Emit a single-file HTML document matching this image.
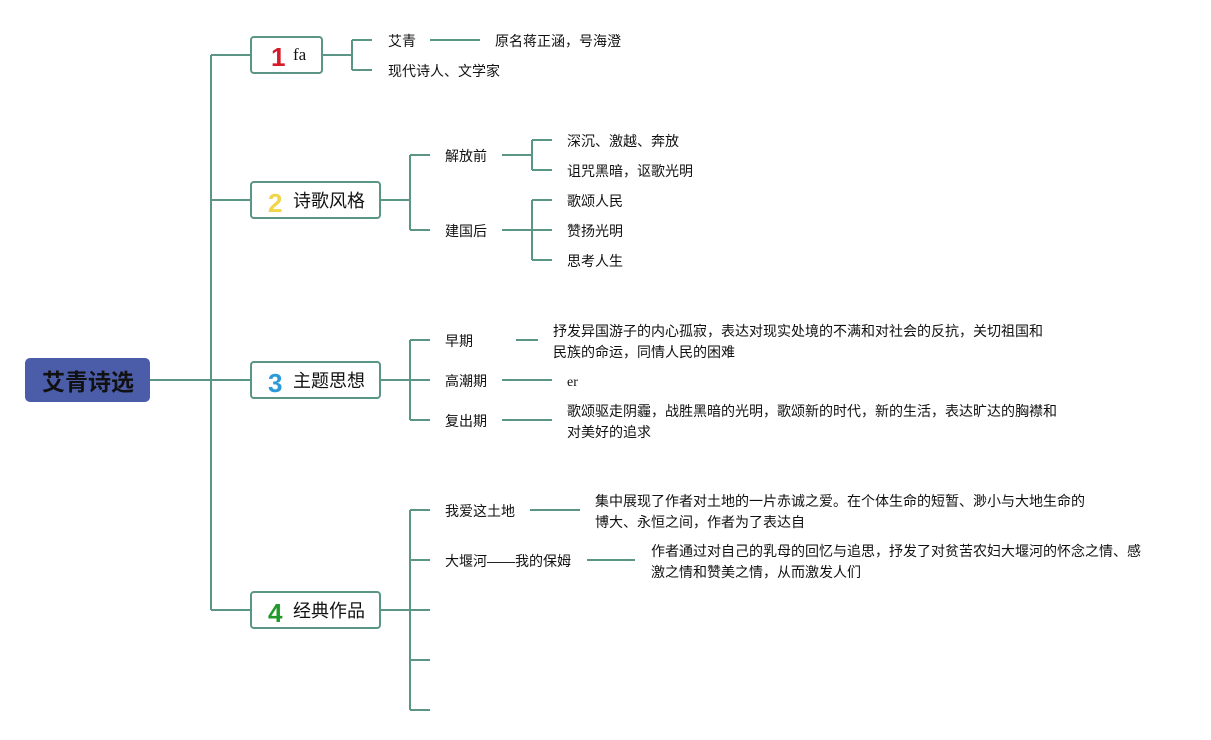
<!DOCTYPE html>
<html><head><meta charset="utf-8"><style>
body{margin:0;background:#fff;}
svg text{font-family:"Liberation Sans","Noto Sans CJK SC",sans-serif;fill:#111;}
</style></head><body>
<svg width="1211" height="735" xmlns="http://www.w3.org/2000/svg">
<g stroke="#5b9585" stroke-width="2" fill="none">
<path d="M150 380H251M211 55V610M211 55H251M211 200H251M211 610H251"/>
<path d="M322 55H352M352 40V70M352 40H372M352 70H372M430 40H480"/>
<path d="M380 200H410M410 155V230M410 155H430M410 230H430"/>
<path d="M502 155H532M532 140V170M532 140H552M532 170H552"/>
<path d="M502 230H532M532 200V260M532 200H552M532 230H552M532 260H552"/>
<path d="M380 380H410M410 340V420M410 340H430M410 380H430M410 420H430"/>
<path d="M516 340H538M502 380H552M502 420H552"/>
<path d="M380 610H410M410 510V710M410 510H430M410 560H430M410 610H430M410 660H430M410 710H430"/>
<path d="M530 510H580M587 560H635"/>
</g>
<rect x="25" y="358" width="125" height="44" rx="5" fill="#4b5ca8"/>
<text x="88" y="390" font-size="23" font-weight="bold" text-anchor="middle">艾青诗选</text>
<g fill="#fff" stroke="#5b9585" stroke-width="2">
<rect x="251" y="37" width="71" height="36" rx="3"/>
<rect x="251" y="182" width="129" height="36" rx="3"/>
<rect x="251" y="362" width="129" height="36" rx="3"/>
<rect x="251" y="592" width="129" height="36" rx="3"/>
</g>
<text x="271" y="66" font-size="26" font-weight="bold" style="fill:#d8192a">1</text>
<text x="293" y="60" font-size="17" style="font-family:'Liberation Serif',serif">fa</text>
<text x="268" y="212" font-size="26" font-weight="bold" style="fill:#f0d44a">2</text>
<text x="268" y="392" font-size="26" font-weight="bold" style="fill:#2a9ad8">3</text>
<text x="268" y="622" font-size="26" font-weight="bold" style="fill:#1f9a2a">4</text>
<g font-size="18"><text x="293" y="207">诗歌风格</text><text x="293" y="387">主题思想</text><text x="293" y="617">经典作品</text></g>
<g font-size="14">
<text x="388" y="46">艾青</text><text x="495" y="46">原名蒋正涵，号海澄</text>
<text x="388" y="76">现代诗人、文学家</text>
<text x="445" y="161">解放前</text><text x="445" y="236">建国后</text>
<text x="567" y="146">深沉、激越、奔放</text><text x="567" y="176">诅咒黑暗，讴歌光明</text>
<text x="567" y="206">歌颂人民</text><text x="567" y="236">赞扬光明</text><text x="567" y="266">思考人生</text>
<text x="445" y="346">早期</text><text x="445" y="386">高潮期</text><text x="445" y="426">复出期</text>
<text x="553" y="336">抒发异国游子的内心孤寂，表达对现实处境的不满和对社会的反抗，关切祖国和</text>
<text x="553" y="357">民族的命运，同情人民的困难</text>
<text x="567" y="386" style="font-family:'Liberation Serif',serif">er</text>
<text x="567" y="416">歌颂驱走阴霾，战胜黑暗的光明，歌颂新的时代，新的生活，表达旷达的胸襟和</text>
<text x="567" y="437">对美好的追求</text>
<text x="445" y="516">我爱这土地</text><text x="445" y="566">大堰河——我的保姆</text>
<text x="595" y="506">集中展现了作者对土地的一片赤诚之爱。在个体生命的短暂、渺小与大地生命的</text>
<text x="595" y="527">博大、永恒之间，作者为了表达自</text>
<text x="651" y="556">作者通过对自己的乳母的回忆与追思，抒发了对贫苦农妇大堰河的怀念之情、感</text>
<text x="651" y="577">激之情和赞美之情，从而激发人们</text>
</g>
</svg>
</body></html>
